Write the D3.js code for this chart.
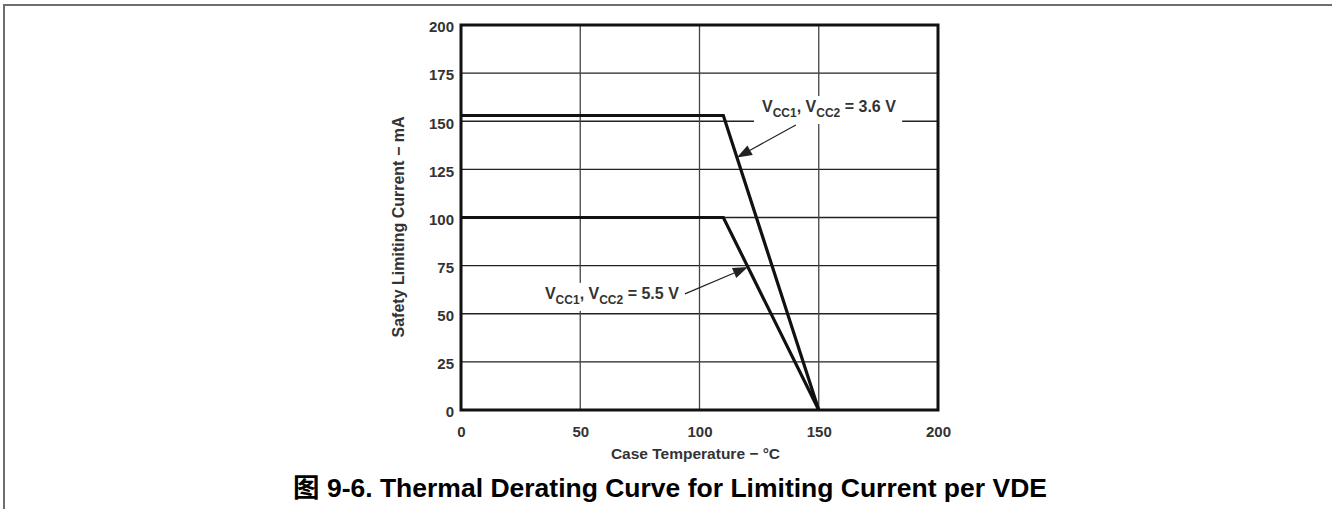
<!DOCTYPE html>
<html>
<head>
<meta charset="utf-8">
<script src="https://cdn.jsdelivr.net/npm/d3@7"></script>
<style>
  html, body { margin: 0; padding: 0; background: #fff; }
  svg { display: block; }
  text { font-family: "Liberation Sans", Arial, "Noto Sans CJK SC", sans-serif; font-weight: bold; }
</style>
</head>
<body>
<svg id="chart" width="1332" height="509"></svg>
<script>
// ---- data ----
const xTicks = [0, 50, 100, 150, 200];
const yTicks = [0, 25, 50, 75, 100, 125, 150, 175, 200];
const temps36 = [0, 110, 150];
const current36 = [153, 153, 0];
const temps55 = [0, 110, 150];
const current55 = [100, 100, 0];
const label36 = ["V", "CC1", ", V", "CC2", " = 3.6 V"];
const label55 = ["V", "CC1", ", V", "CC2", " = 5.5 V"];
const xTitle = "Case Temperature  \u2212 \u00B0C";
const yTitle = "Safety Limiting Current \u2212 mA";
const chartTitle = "\u56FE 9-6. Thermal Derating Curve for Limiting Current per VDE";

// annotation anchors in data units: [labelT, labelI, arrowStartT, arrowStartI, tipT]
const ann36 = [126.2, 154.8, 140.4, 148.1, 115.7];
const ann55 = [35.2, 57.7, 93.9, 60.3, 120.3];

// ---- layout ----
const svg = d3.select("#chart");
const W = 1332, H = 509;
const plot = { left: 461, right: 938, top: 25, bottom: 410 };

const x = d3.scaleLinear().domain([0, 200]).range([plot.left, plot.right]);
const y = d3.scaleLinear().domain([0, 200]).range([plot.bottom, plot.top]);

// outer frame (top + left rule)
svg.append("line").attr("x1", 3).attr("x2", W).attr("y1", 5).attr("y2", 5)
  .attr("stroke", "#6e6e6e").attr("stroke-width", 2);
svg.append("line").attr("x1", 4).attr("x2", 4).attr("y1", 4).attr("y2", H)
  .attr("stroke", "#6e6e6e").attr("stroke-width", 2);

// gridlines
svg.append("g").selectAll("line").data(yTicks.slice(1, -1)).join("line")
  .attr("x1", plot.left).attr("x2", plot.right)
  .attr("y1", d => y(d)).attr("y2", d => y(d))
  .attr("stroke", "#222").attr("stroke-width", 1.3);
svg.append("g").selectAll("line").data(xTicks.slice(1, -1)).join("line")
  .attr("y1", plot.top).attr("y2", plot.bottom)
  .attr("x1", d => x(d)).attr("x2", d => x(d))
  .attr("stroke", "#444").attr("stroke-width", 1.3);

// axes labels
const gx = svg.append("g").attr("transform", `translate(0,${plot.bottom})`)
  .call(d3.axisBottom(x).tickValues(xTicks).tickSize(0).tickPadding(16).tickFormat(d3.format("d")));
gx.select(".domain").remove();
gx.selectAll("text").attr("font-size", 15).attr("fill", "#333")
  .style("font-family", "'Liberation Sans', Arial, sans-serif").style("font-weight", "bold");

const gy = svg.append("g").attr("transform", `translate(${plot.left},0)`)
  .call(d3.axisLeft(y).tickValues(yTicks).tickSize(0).tickPadding(7).tickFormat(d3.format("d")));
gy.select(".domain").remove();
gy.selectAll("text").attr("font-size", 15).attr("fill", "#333").attr("dy", "0.45em")
  .style("font-family", "'Liberation Sans', Arial, sans-serif").style("font-weight", "bold");

// label builder
function addLabel(parts, T, I) {
  const t = svg.append("text").attr("x", x(T)).attr("y", y(I)).attr("fill", "#333").attr("font-size", 16);
  parts.forEach((p, i) => {
    const sub = i % 2 === 1;
    t.append("tspan").text(p)
      .attr("font-size", sub ? 12 : 16)
      .attr("dy", i === 0 ? 0 : (sub ? 5 : -5));
  });
  return t;
}

const line = d3.line().x(d => x(d[0])).y(d => y(d[1]));

function addAnnotation(parts, a, temps, curr) {
  const t = addLabel(parts, a[0], a[1]);
  const bb = t.node().getBBox();
  svg.insert("rect", function () { return t.node(); })
    .attr("x", bb.x - 8).attr("y", bb.y - 2)
    .attr("width", bb.width + 14).attr("height", bb.height + 6)
    .attr("fill", "#fff");
  // arrow: tip lies on the descending segment
  const tipT = a[4];
  const tipI = d3.scaleLinear().domain([temps[1], temps[2]]).range([curr[1], curr[2]])(tipT);
  const x0 = x(a[2]), y0 = y(a[3]), x1 = x(tipT), y1 = y(tipI);
  const ang = Math.atan2(y1 - y0, x1 - x0);
  const L = 15, Wd = 5.5;
  const bx = x1 - L * Math.cos(ang), by = y1 - L * Math.sin(ang);
  svg.append("line").attr("x1", x0).attr("y1", y0).attr("x2", bx).attr("y2", by)
    .attr("stroke", "#222").attr("stroke-width", 1.2);
  const px = -Math.sin(ang), py = Math.cos(ang);
  svg.append("path")
    .attr("d", `M${x1},${y1}L${bx + px * Wd},${by + py * Wd}L${bx - px * Wd},${by - py * Wd}Z`)
    .attr("fill", "#222");
}

// data lines
svg.append("path").datum(d3.zip(temps36, current36)).attr("d", line)
  .attr("fill", "none").attr("stroke", "#111").attr("stroke-width", 3.2).attr("stroke-linejoin", "miter");
svg.append("path").datum(d3.zip(temps55, current55)).attr("d", line)
  .attr("fill", "none").attr("stroke", "#111").attr("stroke-width", 3.2).attr("stroke-linejoin", "miter");

addAnnotation(label36, ann36, temps36, current36);
addAnnotation(label55, ann55, temps55, current55);

// plot border
svg.append("rect").attr("x", plot.left).attr("y", plot.top)
  .attr("width", plot.right - plot.left).attr("height", plot.bottom - plot.top)
  .attr("fill", "none").attr("stroke", "#111").attr("stroke-width", 3);

// axis titles
svg.append("text").attr("x", 695.5).attr("y", 459)
  .attr("text-anchor", "middle").attr("font-size", 15.5).attr("fill", "#333").text(xTitle);
svg.append("text").attr("transform", "translate(404,227) rotate(-90)")
  .attr("text-anchor", "middle").attr("font-size", 16).attr("fill", "#333").text(yTitle);

// chart title
svg.append("text").attr("x", 670).attr("y", 497).attr("text-anchor", "middle")
  .attr("font-size", 26.5).attr("fill", "#000").text(chartTitle);
</script>
</body>
</html>
